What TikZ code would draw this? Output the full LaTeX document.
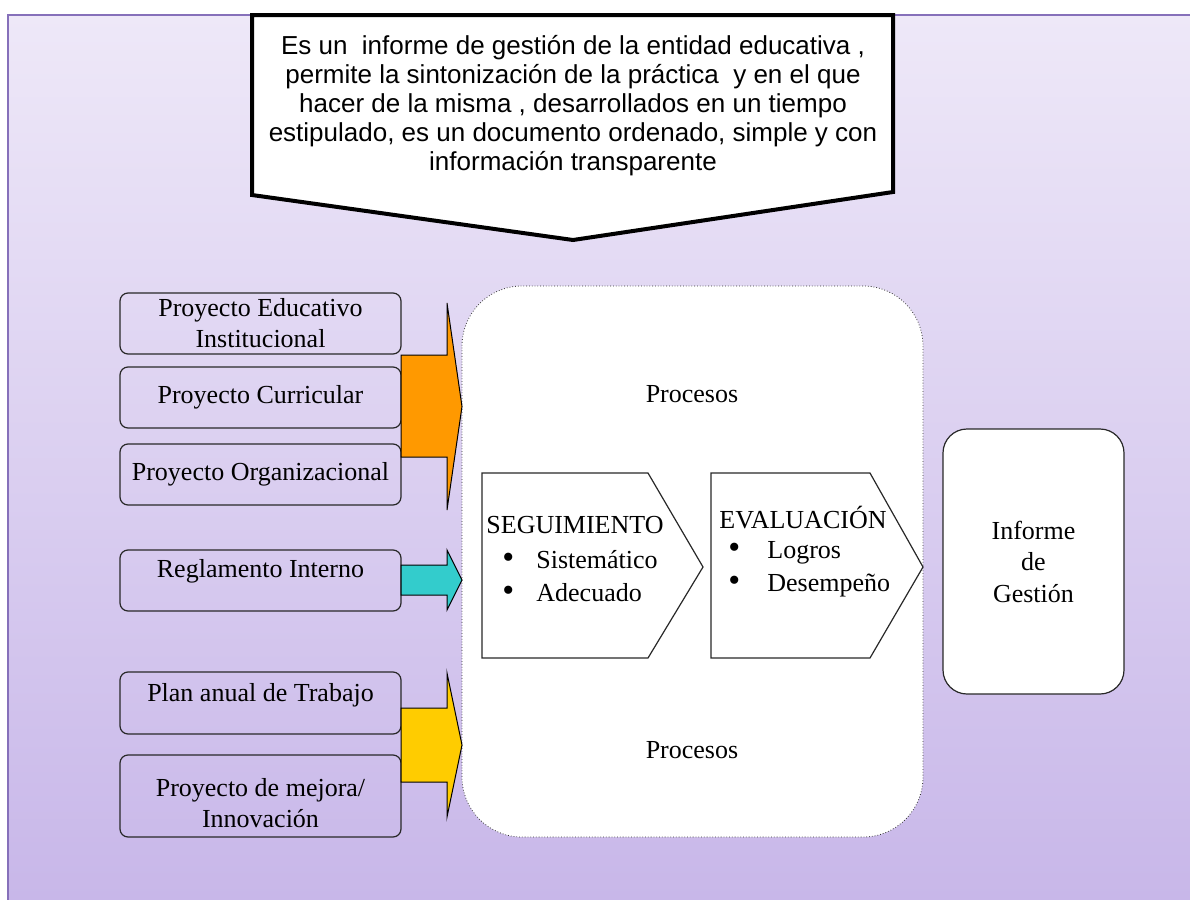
\documentclass[tikz,border=0pt]{standalone}
\usepackage{fontspec}
\setmainfont{Liberation Serif}
\newfontfamily\arialfont{Liberation Sans}
\definecolor{bgtop}{RGB}{238,232,248}
\definecolor{bgbot}{RGB}{200,183,233}
\definecolor{marco}{RGB}{134,112,186}
\definecolor{borde}{RGB}{40,40,40}
\definecolor{naranja}{RGB}{255,153,0}
\definecolor{turquesa}{RGB}{51,204,204}
\definecolor{amarillo}{RGB}{255,204,0}
\newcommand\punto{\smash{\fontsize{17}{17}\selectfont\textbullet}}
\begin{document}
\begin{tikzpicture}[x=.5pt,y=-.5pt,
    texto/.style={font=\fontsize{13}{15.5}\selectfont,inner sep=0pt},
    caja/.style={texto,draw=borde,line width=.6pt,rounded corners=4pt,minimum width=140.5pt,align=center},
    normal/.style={},
    alto/.style={text depth=12pt},
    medio/.style={text depth=10.5pt},
    bajo/.style={text height=31.5pt},
    flecha/.style={draw=black,line width=.5pt}]
\useasboundingbox (0,0) rectangle (1190,900);
\shade[top color=bgtop,bottom color=bgbot] (8,15) rectangle (1190,900);
\draw[marco,line width=1pt] (8,900) -- (8,15) -- (1190,15);
% nota de arriba
\draw[line width=2pt,fill=white,line join=miter] (252,15) -- (893,15) -- (893,192) -- (573,240) -- (252,195) -- cycle;
\node[font=\arialfont\fontsize{13}{14.5}\selectfont,align=center] (desc) at (573,106){Es un\ \ informe de gestión de la entidad educativa ,\\
    permite la sintonización de la práctica\ \ y en el que\\
    hacer de la misma , desarrollados en un tiempo\\
    estipulado, es un documento ordenado, simple y con\\
    información transparente};
% documentos de entrada
\foreach \n/\y/\h/\s/\t in {pei/323.5/30.5/normal/{Proyecto Educativo\\Institucional},pcu/397.5/30.5/normal/{Proyecto Curricular},por/474.5/30.5/normal/{Proyecto Organizacional},rin/580.5/30.5/alto/{Reglamento Interno},pat/703/31/medio/{Plan anual de Trabajo},pmi/796/41/bajo/{Proyecto de mejora/\\Innovación}}{
    \node[caja,minimum height=\h pt,\s] (\n) at (260.5,\y){\t};
}
% procesos
\node[draw=black!80,densely dotted,fill=white,rounded corners=30pt,minimum width=230.5pt,minimum height=275.5pt] (proc) at (692.5,561.5){};
\node[texto] (pr1) at (692,394){Procesos};
\node[texto] (pr2) at (692,750){Procesos};
\foreach \c/\a/\b/\p/\q in {naranja/355/457/303/510,turquesa/565/595/550/610,amarillo/708/782/673/817}{
    \filldraw[flecha,fill=\c] (401,\a) -- (447,\a) -- (447,\p) -- (462,{(\p+\q)/2}) -- (447,\q) -- (447,\b) -- (401,\b) -- cycle;
}
\foreach \x/\w/\p in {482/166/55,711/159/53}{
    \draw[borde,line width=.6pt,fill=white] (\x,473) -- ++(\w,0) -- ++(\p,94) -- ++(-\p,91) -- ++(-\w,0) -- cycle;
}
\node[texto] (seg) at (575,525){SEGUIMIENTO};
\node[texto,anchor=west] (seg1) at (502,560){\makebox[17pt][l]{\punto}Sistemático};
\node[texto,anchor=west] (seg2) at (502,593){\makebox[17pt][l]{\punto}Adecuado};
\node[texto] (eva) at (803,518){EVALUACIÓN};
\node[texto,anchor=west] (eva1) at (728,553){\makebox[19.5pt][l]{\punto}Logros};
\node[texto,anchor=west] (eva2) at (728,586){\makebox[19.5pt][l]{\punto}Desempeño};
% informe
\node[texto,draw=borde,line width=.6pt,fill=white,rounded corners=12pt,minimum width=90.5pt,minimum height=132.5pt,align=center,font=\fontsize{13}{15.75}\selectfont] (inf) at (1033.5,561.5){Informe\\de\\Gestión};
\end{tikzpicture}
\end{document}
